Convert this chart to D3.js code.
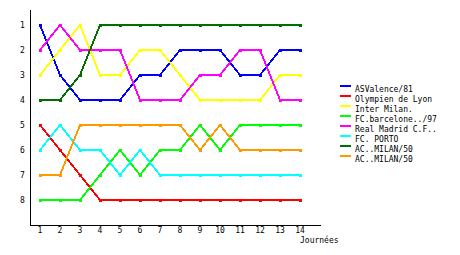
<!DOCTYPE html>
<html><head><meta charset="utf-8">
<script src="https://cdn.jsdelivr.net/npm/d3@7"></script>
<style>
html,body{margin:0;padding:0;background:#fff;}
svg{display:block;}
text{font-family:"DejaVu Sans Mono",monospace;font-size:8px;fill:#000;}
</style></head>
<body>
<script>
const journees = [1,2,3,4,5,6,7,8,9,10,11,12,13,14];
const rankTicks = [1,2,3,4,5,6,7,8];
const teams = ["ASValence/81","Olympien de Lyon","Inter Milan.","FC.barcelone../97","Real Madrid C.F..","FC. PORTO","AC..MILAN/50","AC..MILAN/50"];
const colors = ["#0000ff","#ff0000","#ffff00","#00ff00","#ff00ff","#00ffff","#006e00","#ff9900"];
const valence  = [1,3,4,4,4,3,3,2,2,2,3,3,2,2];
const lyon     = [5,6,7,8,8,8,8,8,8,8,8,8,8,8];
const inter    = [3,2,1,3,3,2,2,3,4,4,4,4,3,3];
const barca    = [8,8,8,7,6,7,6,6,5,6,5,5,5,5];
const real     = [2,1,2,2,2,4,4,4,3,3,2,2,4,4];
const porto    = [6,5,6,6,7,6,7,7,7,7,7,7,7,7];
const milanA   = [4,4,3,1,1,1,1,1,1,1,1,1,1,1];
const milanB   = [7,7,5,5,5,5,5,5,6,5,6,6,6,6];
const series = [valence,lyon,inter,barca,real,porto,milanA,milanB];
const xLabel = "Journées";

const svg = d3.select("body").append("svg").attr("width",460).attr("height",255);
const x = d3.scaleLinear().domain([0.5,15]).range([30,320]);
const y = d3.scaleLinear().domain([0.4,9]).range([10,225]);

// axes lines
svg.append("line").attr("x1",30.5).attr("x2",30.5).attr("y1",10).attr("y2",225.5)
  .attr("stroke","#000").attr("stroke-width",1).attr("shape-rendering","crispEdges");
svg.append("line").attr("x1",30).attr("x2",321).attr("y1",225.5).attr("y2",225.5)
  .attr("stroke","#000").attr("stroke-width",1).attr("shape-rendering","crispEdges");

// tick labels
svg.selectAll(".yl").data(rankTicks).enter().append("text")
  .attr("x",22.5).attr("y",d=>y(d)+3).attr("text-anchor","middle").text(d=>d);
svg.selectAll(".xl").data(journees).enter().append("text")
  .attr("x",d=>x(d)).attr("y",233).attr("text-anchor","middle").text(d=>d);
svg.append("text").attr("x",300).attr("y",243).text(xLabel);

const line = d3.line().x((d,i)=>x(journees[i])).y(d=>y(d));
series.forEach((s,k)=>{
  const g = svg.append("g");
  g.append("path").attr("d",line(s)).attr("fill","none").attr("stroke",colors[k])
    .attr("stroke-width",2).attr("shape-rendering","crispEdges");
  g.selectAll("rect").data(s).enter().append("rect")
    .attr("x",(d,i)=>x(journees[i])-1.5).attr("y",d=>y(d)-1.5)
    .attr("width",3).attr("height",3).attr("fill",colors[k]).attr("shape-rendering","crispEdges");
});

// legend
teams.forEach((t,k)=>{
  svg.append("line").attr("x1",340).attr("x2",351).attr("y1",86+k*10).attr("y2",86+k*10)
    .attr("stroke",colors[k]).attr("stroke-width",2).attr("shape-rendering","crispEdges");
  svg.append("text").attr("x",355).attr("y",92+k*10).text(t);
});
</script>
</body></html>
